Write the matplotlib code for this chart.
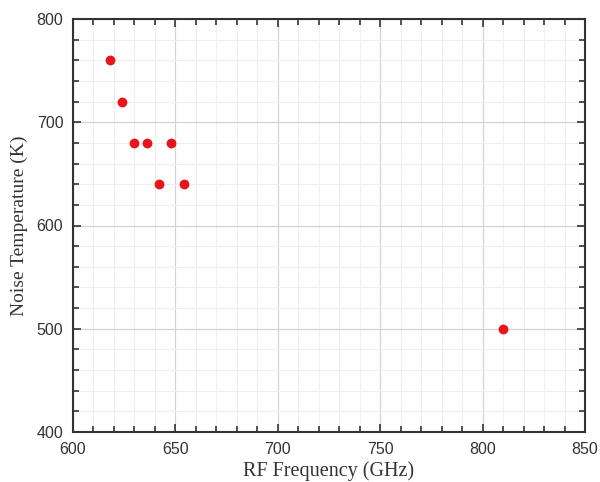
import matplotlib
matplotlib.use("Agg")
import matplotlib.pyplot as plt
from matplotlib.ticker import MultipleLocator

freq = [618, 624, 630, 636, 642, 648, 654, 810]
temp = [760, 720, 680, 680, 640, 680, 640, 500]

fig = plt.figure(figsize=(6.0, 4.82), dpi=100)
ax = fig.add_axes([73/600, 1-432/482, (585-73)/600, (432-19)/482])

ax.scatter(freq, temp, s=50, color='#e8141c', zorder=3, linewidths=0)

ax.set_xlim(600, 850)
ax.set_ylim(400, 800)
ax.xaxis.set_major_locator(MultipleLocator(50))
ax.xaxis.set_minor_locator(MultipleLocator(10))
ax.yaxis.set_major_locator(MultipleLocator(100))
ax.yaxis.set_minor_locator(MultipleLocator(20))
ax.grid(which='major', color='#d4d4d4', linewidth=0.9)
ax.grid(which='minor', color='#efefef', linewidth=0.8)
ax.set_axisbelow(True)
ax.tick_params(which='both', direction='in', top=True, right=True, width=1.2, color='#333333')
ax.tick_params(which='major', length=6)
ax.tick_params(which='minor', length=4)
ax.tick_params(axis='x', which='major', pad=7)
ax.tick_params(axis='y', which='major', pad=7)
for lab in ax.get_xticklabels() + ax.get_yticklabels():
    lab.set_fontfamily('Liberation Sans')
    lab.set_fontsize(11.5)
    lab.set_color('#333333')
for sp in ax.spines.values():
    sp.set_linewidth(1.5)
    sp.set_color('#333333')

ax.set_xlabel('RF Frequency (GHz)', fontfamily='Liberation Serif', fontsize=14.5, color='#333333', labelpad=3)
ax.set_ylabel('Noise Temperature (K)', fontfamily='Liberation Serif', fontsize=14, color='#333333', labelpad=6)

fig.savefig('out.png', dpi=100)
